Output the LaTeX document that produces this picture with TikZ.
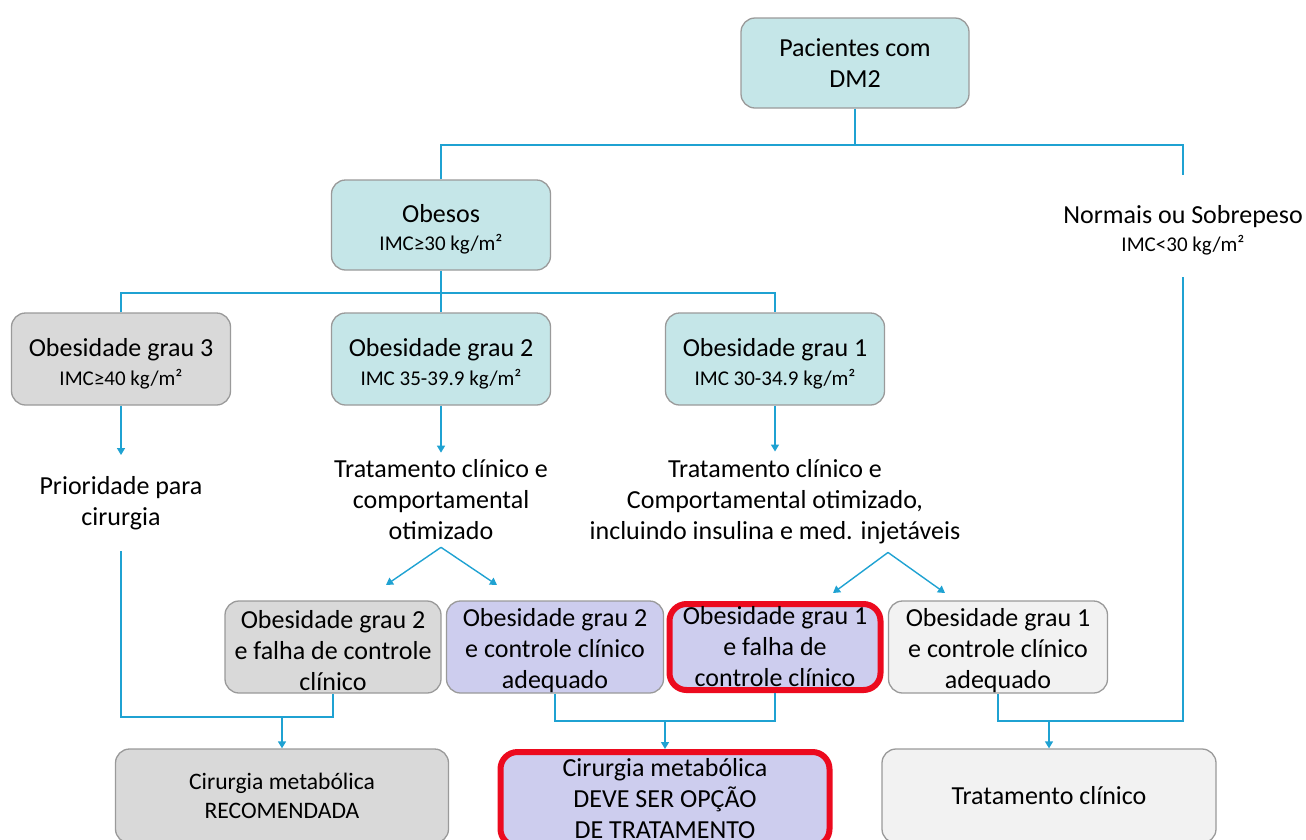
\documentclass[tikz,border=0pt]{standalone}
\usepackage{fontspec}
\setmainfont{Carlito}
\usepackage{tikz}
\usetikzlibrary{arrows.meta,positioning}
\definecolor{boxteal}{HTML}{C5E6E8}
\definecolor{boxgray}{HTML}{D9D9D9}
\definecolor{boxlav}{HTML}{CDCDEE}
\definecolor{boxlight}{HTML}{F2F2F2}
\definecolor{boxline}{HTML}{9A9A9A}
\definecolor{alertred}{HTML}{EC0A1E}
\definecolor{linkblue}{HTML}{1FA2D2}
\newcommand{\imc}[1]{{\fontsize{21}{24}\selectfont #1}}
\newcommand{\topgap}[1]{\rule{0pt}{#1}}
\tikzset{
  box/.style={draw=boxline, line width=1.3pt, rounded corners=14pt, align=center,
    inner sep=0pt, minimum width=219pt, minimum height=92pt,
    font=\fontsize{26}{31}\selectfont},
  alert/.style={draw=alertred, line width=6pt, rounded corners=17pt},
  plain/.style={align=center, inner xsep=0pt, font=\fontsize{26}{31}\selectfont},
  link/.style={draw=linkblue, line width=1.4pt},
  arrow/.style={link, -{Triangle[width=8pt,length=7pt]}}
}
\begin{document}
\begin{tikzpicture}[x=1pt,y=-1pt]
        \useasboundingbox (0,0) rectangle (1306,839);
        %Top level
        \node[box, fill=boxteal, minimum width=228pt, minimum height=90pt] (dm2) at (855,63) {Pacientes com\\DM2};
        \node[box, fill=boxteal, minimum height=90pt] (obesos) at (441,225) {\topgap{26pt}Obesos\\[-3pt]\imc{IMC≥30 kg/m²}};
        \node[plain, inner ysep=22pt] (normais) at (1183,226) {\topgap{26pt}Normais ou Sobrepeso\\[-3pt]\imc{IMC<30 kg/m²}};
        %Grades
        \node[box, fill=boxgray] (grau3) at (121,359) {\topgap{28pt}Obesidade grau 3\\[-2pt]\imc{IMC≥40 kg/m²}};
        \node[box, fill=boxteal] (grau2) at (441,359) {\topgap{28pt}Obesidade grau 2\\[-2pt]\imc{IMC 35-39.9 kg/m²}};
        \node[box, fill=boxteal] (grau1) at (775,359) {\topgap{28pt}Obesidade grau 1\\[-2pt]\imc{IMC 30-34.9 kg/m²}};
        %Treatments
        \node[plain, inner ysep=21pt] (prio) at (121,503) {Prioridade para\\cirurgia};
        \node[plain, inner ysep=7pt] (trat2) at (441,500) {Tratamento clínico e\\comportamental\\otimizado};
        \node[plain, inner ysep=8pt] (trat1) at (775,502) {Tratamento clínico e\\Comportamental otimizado,\\incluindo insulina e med. injetáveis};
        %Outcomes of treatment
        \node[box, fill=boxgray, minimum width=216pt] (falha2) at (333,647) {\topgap{25pt}Obesidade grau 2\\e falha de controle\\clínico};
        \node[box, fill=boxlav, minimum width=217pt] (ctrl2) at (555,647) {\topgap{25pt}Obesidade grau 2\\e controle clínico\\adequado};
        \node[box, alert, fill=boxlav, minimum width=211pt, minimum height=86pt] (falha1) at (775,647) {Obesidade grau 1\\e falha de\\controle clínico};
        \node[box, fill=boxlight] (ctrl1) at (998,647) {\topgap{25pt}Obesidade grau 1\\e controle clínico\\adequado};
        %Final decisions
        \node[box, fill=boxgray, minimum width=333pt, minimum height=94pt, font=\fontsize{23.6}{29}\selectfont] (recom) at (282,796) {Cirurgia metabólica\\RECOMENDADA};
        \node[box, alert, fill=boxlav, minimum width=329pt, minimum height=94pt] (opcao) at (665,799) {Cirurgia metabólica\\DEVE SER OPÇÃO\\DE TRATAMENTO};
        \node[box, fill=boxlight, minimum width=334pt, minimum height=94pt] (clinico) at (1049,796) {Tratamento clínico};
        %Junctions
        \coordinate (j1) at (855,145);
        \coordinate (j2) at (441,293);
        \coordinate (jr) at (282,717);
        \coordinate (jm) at (665,721);
        \coordinate (jt) at (1049,721);
        \coordinate (t2l) at (386,585);
        \coordinate (t2r) at (497,585);
        \coordinate (t1l) at (833,593);
        \coordinate (t1r) at (945,593);
        %Tree lines
        \draw[link] (dm2.south) -- (j1);
        \draw[link] (obesos.north) |- (j1) -| (normais.north);
        \draw[link] (obesos.south) -- (grau2.north);
        \draw[link] (grau3.north) |- (j2) -| (grau1.north);
        \draw[arrow] (grau3.south) -- (prio.north);
        \draw[arrow] (grau2.south) -- (trat2.north);
        \draw[arrow] (grau1.south) -- (trat1.north);
        \draw[arrow] (trat2.south) -- (t2l);
        \draw[arrow] (trat2.south) -- (t2r);
        \draw[arrow] ([xshift=113pt]trat1.south) -- (t1l);
        \draw[arrow] ([xshift=113pt]trat1.south) -- (t1r);
        %Bottom lines
        \draw[link] (prio.south) |- (jr) -| (falha2.south);
        \draw[arrow] (jr) -- (recom.north);
        \draw[link] (ctrl2.south) |- (jm) -| (falha1.south);
        \draw[arrow] (jm) -- (opcao.north);
        \draw[link] (ctrl1.south) |- (jt) -| (normais.south);
        \draw[arrow] (jt) -- (clinico.north);
\end{tikzpicture}
\end{document}
